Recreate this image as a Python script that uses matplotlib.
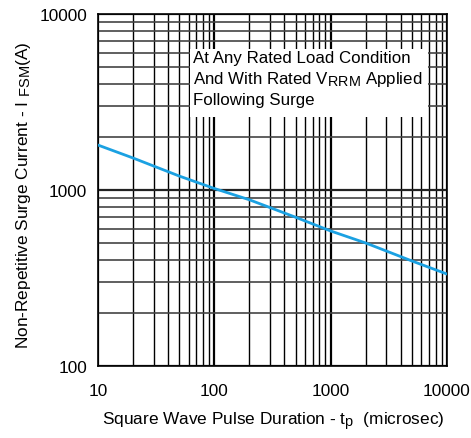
import matplotlib
matplotlib.use("Agg")
import matplotlib.pyplot as plt
from matplotlib.ticker import LogLocator, FixedLocator, FixedFormatter, NullFormatter
from matplotlib.patches import Rectangle
try:
    import matplotlib._mathtext as _mt
    _mt.SHRINK_FACTOR = 0.85
except Exception:
    pass

plt.rcParams['font.family'] = ['Liberation Sans', 'DejaVu Sans']
plt.rcParams['mathtext.fontset'] = 'custom'
plt.rcParams['mathtext.rm'] = 'Liberation Sans'
plt.rcParams['mathtext.it'] = 'Liberation Sans'

# Data
pulse_us = [10, 20, 50, 100, 200, 500, 1000, 2000, 5000, 10000]
surge_a = [1800, 1520, 1200, 1020, 880, 700, 585, 500, 395, 333]

x_ticks = [10, 100, 1000, 10000]
x_labels = ["10", "100", "1000", "10000"]
y_ticks = [100, 1000, 10000]
y_labels = ["100", "1000", "10000"]

FS = 12.4

fig = plt.figure(figsize=(4.71, 4.39), dpi=100)
ax = fig.add_axes([98/471, 1 - 367/439, (447-98)/471, (367-15)/439])
ax.set_xscale('log')
ax.set_yscale('log')
ax.set_xlim(10, 10000)
ax.set_ylim(100, 10000)

ax.xaxis.set_major_locator(FixedLocator(x_ticks))
ax.xaxis.set_major_formatter(FixedFormatter(x_labels))
ax.yaxis.set_major_locator(FixedLocator(y_ticks))
ax.yaxis.set_major_formatter(FixedFormatter(y_labels))
ax.xaxis.set_minor_locator(LogLocator(base=10, subs=range(2, 10)))
ax.yaxis.set_minor_locator(LogLocator(base=10, subs=range(2, 10)))
ax.xaxis.set_minor_formatter(NullFormatter())
ax.yaxis.set_minor_formatter(NullFormatter())

ax.grid(True, which='major', axis='x', color='black', lw=1.6)
ax.grid(True, which='minor', axis='x', color='black', lw=1.0)
ax.grid(True, which='major', axis='y', color='#222222', lw=1.6)
ax.grid(True, which='minor', axis='y', color='#444444', lw=1.2)
ax.tick_params(which='both', length=0, labelsize=12.4)
ax.tick_params(axis='x', pad=12)
ax.tick_params(axis='y', pad=8)
for s in ax.spines.values():
    s.set_linewidth(1.2)
    s.set_color('black')

ax.plot(pulse_us, surge_a, color='#1ba1e2', lw=2.0, zorder=3)

ax.add_patch(Rectangle((0.264, 0.707), 0.946 - 0.264, 0.901 - 0.707,
                       transform=ax.transAxes, facecolor='white', edgecolor='none', zorder=4))
ax.text(0.272, 0.897,
        "At Any Rated Load Condition\nAnd With Rated V$_{\\rm RRM}$ Applied\nFollowing Surge",
        transform=ax.transAxes, ha='left', va='top', fontsize=12.2, linespacing=1.3,
        zorder=5)

fig.text(273/471, 1 - 425/439, "Square Wave Pulse Duration - t$_{\\rm p}$  (microsec)",
         fontsize=FS, ha='center', va='baseline')
fig.text(28/471, 1 - 195/439, "Non-Repetitive Surge Current - I $_{\\rm FSM}$(A)",
         fontsize=FS, ha='center', va='baseline', rotation=90, rotation_mode='anchor')

fig.savefig("out.png", dpi=100, facecolor='white')
